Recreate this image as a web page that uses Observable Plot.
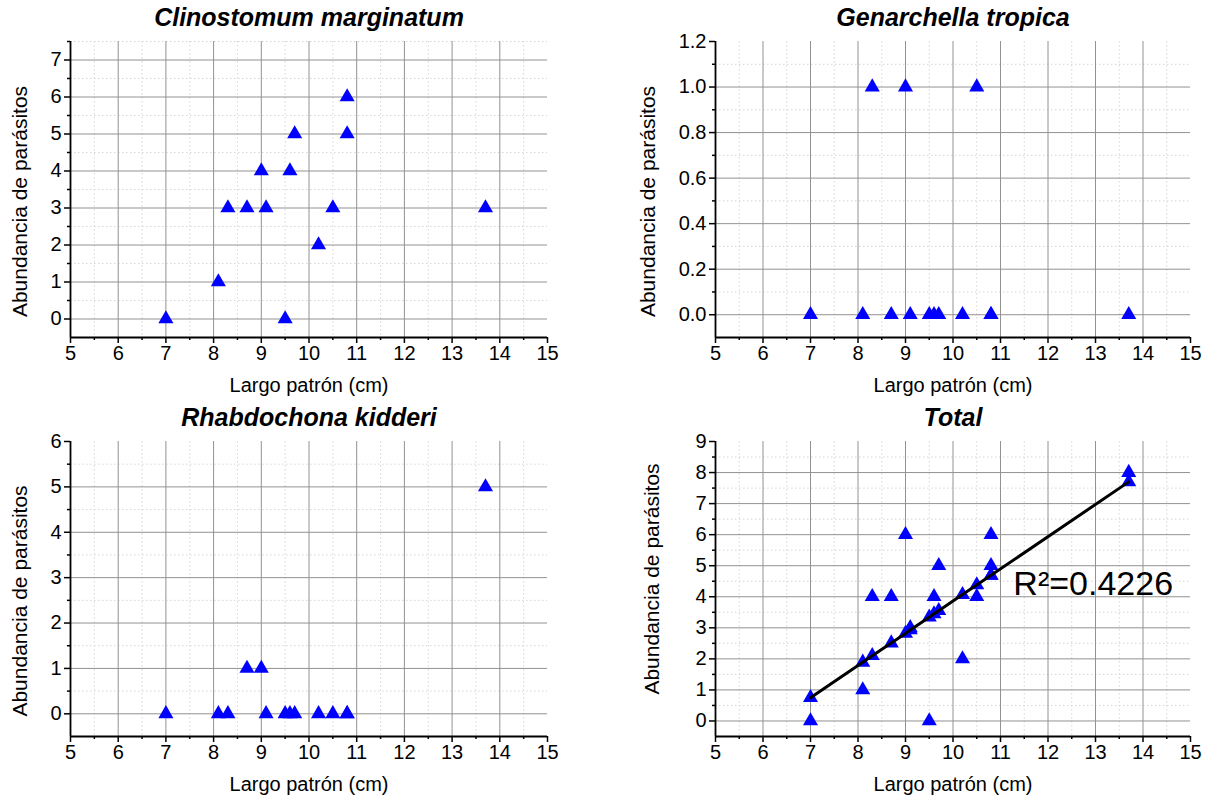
<!DOCTYPE html>
<html><head><meta charset="utf-8">
<script src="https://cdn.jsdelivr.net/npm/d3@7"></script>
<script src="https://cdn.jsdelivr.net/npm/@observablehq/plot@0.6"></script>
<style>
html,body{margin:0;padding:0;background:#fff;overflow:hidden}
#wrap{position:relative;width:1210px;height:799px;font-family:"Liberation Sans",Arial,sans-serif}
.panel{position:absolute}
</style></head><body>
<div id="wrap"></div>
<script>
// Fish standard length (cm) and parasite counts per fish
const lengths     = [7.0, 8.1, 8.3, 8.7, 9.0, 9.1, 9.5, 9.6, 9.7, 10.2, 10.5, 10.8, 10.8, 13.7];
const clinostomum = [0,   1,   3,   3,   4,   3,   0,   4,   5,   2,    3,    6,    5,    3];
const genarchella = [0,   0,   1,   0,   1,   0,   0,   0,   0,   0,    1,    0,    0,    0];
const rhabdochona = [0,   0,   0,   1,   1,   0,   0,   0,   0,   0,    0,    0,    0,    5];
const total       = [0,   1,   4,   4,   6,   3,   0,   4,   5,   2,    4,    6,    5,    8];
const fitted      = [0.75,1.89,2.1, 2.51,2.82,2.93,3.34,3.45,3.55,4.07, 4.38, 4.69, 4.69, 7.7];
const r2Label = "R²=0.4226";

const titles = ["Clinostomum marginatum", "Genarchella tropica", "Rhabdochona kidderi", "Total"];
const xLabel = "Largo patrón (cm)";
const yLabel = "Abundancia de parásitos";

const xTicks = [5,6,7,8,9,10,11,12,13,14,15];
const xGrid = [6,7,8,9,10,11,12,13,14];
const xMinor = [5.5,6.5,7.5,8.5,9.5,10.5,11.5,12.5,13.5,14.5];

const FONT = '"Liberation Sans", Arial, sans-serif';
const wrap = document.getElementById("wrap");

function panel(o) {
  const data = lengths.map((x, i) => ({x, y: o.values[i]}));
  const marks = [
    Plot.gridX(xMinor, {stroke: "#d6d6d6", strokeOpacity: 1, strokeDasharray: "1.5,2.5"}),
    Plot.gridY(o.yMinor, {stroke: "#d6d6d6", strokeOpacity: 1, strokeDasharray: "1.5,2.5"}),
    Plot.gridX(xGrid, {stroke: "#929292", strokeOpacity: 1, strokeWidth: 1}),
    Plot.gridY(o.yGrid, {stroke: "#929292", strokeOpacity: 1, strokeWidth: 1}),
    Plot.axisX(xTicks, {tickSize: 6, tickPadding: 2, fontSize: 20, label: null, strokeWidth: 1.5}),
    Plot.axisX(xMinor, {tickSize: 3, tickFormat: () => "", label: null, strokeWidth: 1.5}),
    Plot.axisY(o.yTicks, {tickSize: 6, tickPadding: 3, fontSize: 20, label: null, tickFormat: o.yFmt, strokeWidth: 1.5}),
    Plot.axisY(o.yMinor, {tickSize: 3, tickFormat: () => "", label: null, strokeWidth: 1.5}),
    Plot.ruleX([5], {stroke: "#000", strokeWidth: 1.8}),
    Plot.ruleY([o.yDomain[0]], {stroke: "#000", strokeWidth: 1.8}),
    Plot.dot(data, {x: "x", y: "y", symbol: "triangle", r: 5.6, fill: "#0000ff", stroke: null}),
    ...(o.extra || []),
    Plot.text([o.title], {text: d => d, frameAnchor: "top", lineAnchor: "middle", textAnchor: "middle", dy: -24, fontSize: 25, fontWeight: "bold", fontStyle: "italic"}),
    Plot.text([xLabel], {text: d => d, frameAnchor: "bottom", lineAnchor: "middle", textAnchor: "middle", dy: 48, fontSize: 20}),
    Plot.text([yLabel], {text: d => d, frameAnchor: "left", lineAnchor: "middle", textAnchor: "middle", rotate: -90, dx: o.yLabelDx, dy: o.yLabelDy, fontSize: 21})
  ];
  const p = Plot.plot({
    width: 605,
    height: o.height,
    marginLeft: o.mLeft,
    marginRight: o.mRight,
    marginTop: 41,
    marginBottom: 63,
    x: {domain: [5, 15], axis: null},
    y: {domain: o.yDomain, axis: null},
    style: {fontFamily: FONT, fontSize: "20px", color: "#000", background: "transparent", overflow: "visible"},
    marks
  });
  p.classList.add("panel");
  p.style.left = o.left + "px";
  p.style.top = o.top + "px";
  wrap.appendChild(p);
}

panel({
  title: titles[0], values: clinostomum, left: 0, top: 0, height: 400, mLeft: 70, mRight: 58,
  yDomain: [-0.5, 7.5], yTicks: [0,1,2,3,4,5,6,7], yGrid: [0,1,2,3,4,5,6,7],
  yMinor: [0.5,1.5,2.5,3.5,4.5,5.5,6.5,7.5], yFmt: d3.format("d"), yLabelDx: -50, yLabelDy: 12
});
panel({
  title: titles[1], values: genarchella, left: 605, top: 0, height: 400, mLeft: 110, mRight: 20,
  yDomain: [-0.1, 1.2], yTicks: [0,0.2,0.4,0.6,0.8,1.0,1.2], yGrid: [0,0.2,0.4,0.6,0.8,1.0],
  yMinor: [0.1,0.3,0.5,0.7,0.9,1.1], yFmt: d3.format(".1f"), yLabelDx: -67, yLabelDy: 12
});
panel({
  title: titles[2], values: rhabdochona, left: 0, top: 400, height: 399, mLeft: 70, mRight: 58,
  yDomain: [-0.5, 6], yTicks: [0,1,2,3,4,5,6], yGrid: [0,1,2,3,4,5],
  yMinor: [0.5,1.5,2.5,3.5,4.5,5.5], yFmt: d3.format("d"), yLabelDx: -50, yLabelDy: 12
});
const fitData = lengths.map((x, i) => ({x, y: fitted[i]}));
panel({
  title: titles[3], values: total, left: 605, top: 400, height: 399, mLeft: 110, mRight: 20,
  yDomain: [-0.5, 9], yTicks: [0,1,2,3,4,5,6,7,8,9], yGrid: [0,1,2,3,4,5,6,7,8],
  yMinor: [0.5,1.5,2.5,3.5,4.5,5.5,6.5,7.5,8.5], yFmt: d3.format("d"), yLabelDx: -63, yLabelDy: -10,
  extra: [
    Plot.dot(fitData, {x: "x", y: "y", symbol: "triangle", r: 5.6, fill: "#0000ff", stroke: null}),
    Plot.line(fitData, {x: "x", y: "y", stroke: "#000", strokeWidth: 3}),
    Plot.text([r2Label], {text: d => d, x: 11.27, y: 4.4, textAnchor: "start", lineAnchor: "middle", fontSize: 34})
  ]
});
</script>
</body></html>
